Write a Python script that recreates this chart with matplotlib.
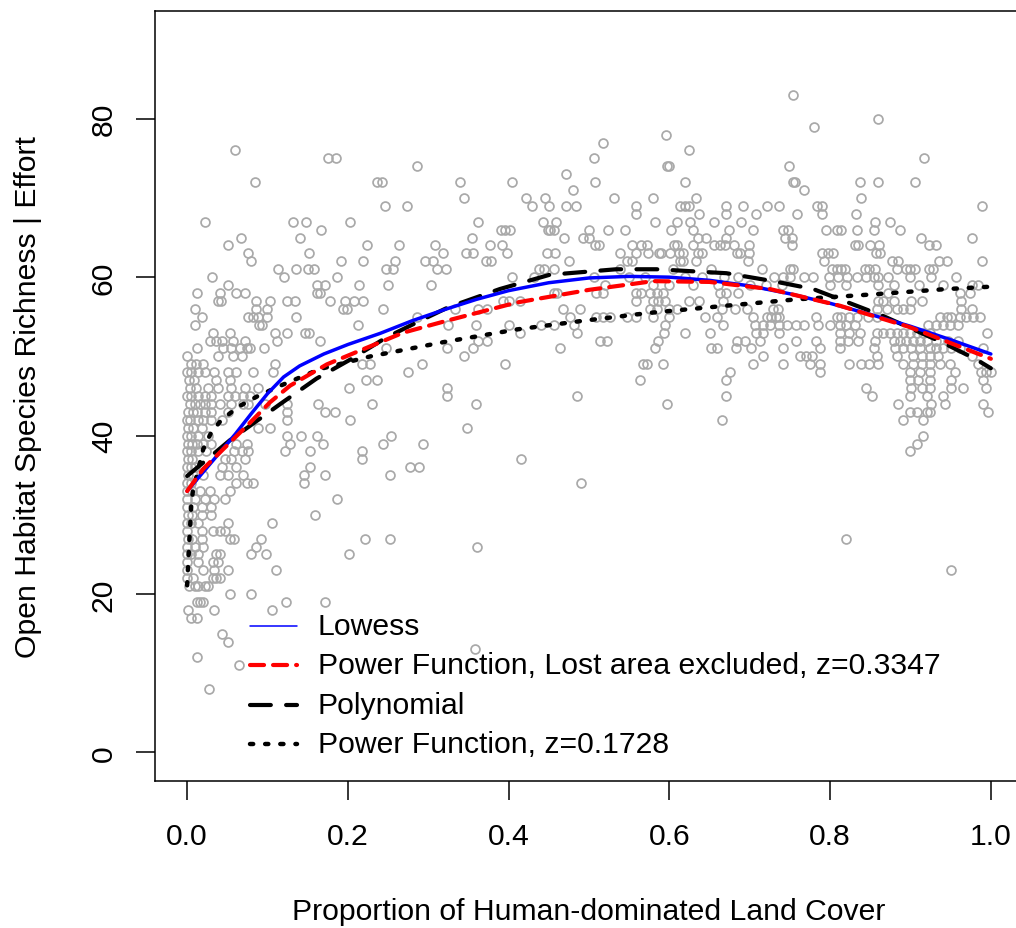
import matplotlib
matplotlib.use("Agg")
import matplotlib.pyplot as plt
from matplotlib.lines import Line2D
import numpy as np

plt.rcParams['font.family'] = ['Liberation Sans', 'DejaVu Sans']
plt.rcParams['lines.scale_dashes'] = False

# ---------------- data (richness level, [land-cover proportions]) ----------------
obs_far_left = [
    (76, [0.060]), (72, [0.085]), (67, [0.022]), (65, [0.067]), (64, [0.051]),
    (63, [0.076]), (62, [0.080]), (60, [0.031]), (59, [0.051]),
    (58, [0.012, 0.041, 0.061, 0.072]),
    (57, [0.039, 0.042, 0.086]),
    (56, [0.010, 0.086, 0.099]),
    (55, [0.018, 0.076, 0.082, 0.088, 0.099]),
    (54, [0.010, 0.090, 0.093]),
    (53, [0.032, 0.053]),
    (52, [0.028, 0.036, 0.043, 0.057, 0.072]),
    (51, [0.012, 0.045, 0.055, 0.066, 0.074, 0.078, 0.095]),
    (50, [0.0, 0.039, 0.057, 0.068]),
    (49, [0.005, 0.011, 0.020]),
    (48, [0.0, 0.005, 0.014, 0.022, 0.034, 0.051, 0.061, 0.082]),
    (47, [0.002, 0.008, 0.036, 0.053]),
    (46, [0.003, 0.011, 0.026, 0.039, 0.055, 0.072, 0.088]),
    (45, [0.0, 0.005, 0.014, 0.022, 0.030, 0.051, 0.059, 0.070, 0.078]),
    (44, [0.003, 0.010, 0.016, 0.022, 0.030, 0.041, 0.055, 0.070, 0.076, 0.097]),
    (43, [0.001, 0.007, 0.012, 0.022, 0.030, 0.051]),
    (42, [0.0, 0.003, 0.014, 0.020, 0.030, 0.043]),
    (41, [0.001, 0.007, 0.018, 0.088]),
    (40, [0.0, 0.005, 0.014, 0.026]),
    (39, [0.001, 0.006, 0.012, 0.020, 0.030, 0.061, 0.074]),
    (38, [0.0, 0.005, 0.014, 0.024, 0.058, 0.068, 0.076]),
    (37, [0.001, 0.006, 0.047, 0.055, 0.072]),
    (36, [0.0, 0.005, 0.010, 0.043, 0.061]),
    (35, [0.001, 0.007, 0.020, 0.041, 0.051, 0.070]),
    (34, [0.0, 0.005, 0.061, 0.074, 0.082]),
    (33, [0.0, 0.006, 0.016, 0.028, 0.053]),
    (32, [0.0, 0.010, 0.022, 0.034, 0.047]),
    (31, [0.0, 0.007, 0.018, 0.030]),
    (30, [0.001, 0.006, 0.018, 0.030]),
    (29, [0.0, 0.005, 0.014, 0.051]),
    (28, [0.0, 0.018, 0.032, 0.041, 0.047]),
    (27, [0.001, 0.006, 0.018, 0.053, 0.058, 0.092]),
    (26, [0.0, 0.010, 0.020, 0.086]),
    (25, [0.0, 0.005, 0.014, 0.036, 0.041, 0.080, 0.098]),
    (24, [0.0, 0.014, 0.032, 0.039]),
    (23, [0.0, 0.020, 0.034, 0.051]),
    (22, [0.0, 0.007, 0.032, 0.036, 0.041]),
    (21, [0.002, 0.010, 0.014, 0.022, 0.026]),
    (20, [0.053, 0.080]),
    (19, [0.012, 0.016, 0.020]),
    (18, [0.001, 0.034]),
    (17, [0.005, 0.012]),
    (15, [0.043]), (14, [0.051]), (12, [0.012]), (11, [0.065]), (8, [0.027]),
]

obs_left = [
    (75, [0.175, 0.185]), (74, [0.286]), (72, [0.236, 0.243]), (69, [0.246, 0.273]),
    (67, [0.132, 0.148, 0.203]), (66, [0.166]), (65, [0.141]),
    (64, [0.224, 0.263, 0.308]), (63, [0.151, 0.318]),
    (62, [0.191, 0.219, 0.259, 0.296, 0.306]),
    (61, [0.113, 0.135, 0.150, 0.158, 0.248, 0.256, 0.311, 0.322]),
    (60, [0.121, 0.187]),
    (59, [0.161, 0.171, 0.214, 0.250, 0.303]),
    (58, [0.161, 0.165]),
    (57, [0.103, 0.124, 0.134, 0.178, 0.197, 0.207, 0.219]),
    (56, [0.194, 0.199, 0.244]), (55, [0.136, 0.286]), (54, [0.213, 0.325]),
    (53, [0.109, 0.124, 0.147, 0.151]), (52, [0.112, 0.165]), (51, [0.248, 0.323]),
    (49, [0.109, 0.217, 0.227, 0.292]), (48, [0.107, 0.275]), (47, [0.223, 0.236]),
    (46, [0.202, 0.323]), (45, [0.323]), (44, [0.124, 0.163, 0.230]),
    (43, [0.124, 0.172, 0.184]), (42, [0.124, 0.203]), (41, [0.103]),
    (40, [0.124, 0.142, 0.161, 0.254]), (39, [0.128, 0.169, 0.244, 0.294]),
    (38, [0.122, 0.153, 0.217]), (37, [0.217]), (36, [0.153, 0.277, 0.288]),
    (35, [0.145, 0.172, 0.253]), (34, [0.145]), (32, [0.186]), (30, [0.159]),
    (29, [0.106]), (27, [0.221, 0.253]), (25, [0.201]), (23, [0.110]),
    (19, [0.123, 0.172]), (18, [0.105]),
]

obs_middle = [
    (78, [0.596]), (77, [0.518]), (76, [0.624]), (75, [0.506]), (74, [0.597, 0.600]),
    (73, [0.472]), (72, [0.340, 0.404, 0.507, 0.619]), (71, [0.480]),
    (70, [0.344, 0.421, 0.445, 0.531, 0.580, 0.633]),
    (69, [0.429, 0.450, 0.471, 0.484, 0.559, 0.613, 0.619, 0.624, 0.670]),
    (68, [0.559, 0.637, 0.671]),
    (67, [0.362, 0.443, 0.459, 0.582, 0.609, 0.626, 0.655]),
    (66, [0.390, 0.396, 0.402, 0.449, 0.451, 0.456, 0.500, 0.524, 0.545, 0.602, 0.629, 0.674]),
    (65, [0.354, 0.469, 0.492, 0.500, 0.635, 0.646, 0.670]),
    (64, [0.377, 0.392, 0.507, 0.512, 0.554, 0.565, 0.572, 0.606, 0.610, 0.630, 0.655, 0.663, 0.669]),
    (63, [0.347, 0.356, 0.398, 0.448, 0.458, 0.539, 0.559, 0.574, 0.587, 0.590, 0.601, 0.612,
          0.617, 0.636, 0.641]),
    (62, [0.372, 0.378, 0.475, 0.547, 0.554, 0.613, 0.617, 0.633]),
    (61, [0.438, 0.444, 0.456, 0.539, 0.605, 0.652]),
    (60, [0.404, 0.431, 0.506, 0.550, 0.570, 0.620, 0.640, 0.668]),
    (59, [0.520, 0.580, 0.600, 0.630, 0.660]),
    (58, [0.456, 0.460, 0.509, 0.518, 0.559, 0.565, 0.576, 0.584, 0.592, 0.663, 0.671]),
    (57, [0.393, 0.400, 0.414, 0.559, 0.580, 0.586, 0.594, 0.625, 0.637, 0.667]),
    (56, [0.333, 0.362, 0.373, 0.468, 0.489, 0.576, 0.584, 0.599, 0.609, 0.665]),
    (55, [0.476, 0.509, 0.518, 0.526, 0.547, 0.559, 0.580, 0.599, 0.644, 0.659]),
    (54, [0.360, 0.400, 0.440, 0.456, 0.481, 0.595, 0.667]),
    (53, [0.414, 0.485, 0.593, 0.619, 0.651]),
    (52, [0.362, 0.373, 0.514, 0.522, 0.586]),
    (51, [0.356, 0.464, 0.582, 0.652, 0.659]),
    (50, [0.344]), (49, [0.396, 0.567, 0.572, 0.592]), (47, [0.563, 0.671]),
    (45, [0.485, 0.671]), (44, [0.359, 0.597]), (42, [0.666]), (41, [0.348]),
    (37, [0.415]), (34, [0.490]), (26, [0.361]), (13, [0.358]),
]

obs_right = [
    (83, [0.754]), (80, [0.859]), (79, [0.780]), (75, [0.917]), (74, [0.749]),
    (72, [0.754, 0.756, 0.837, 0.860, 0.906]), (71, [0.767]), (70, [0.838]),
    (69, [0.692, 0.721, 0.736, 0.784, 0.790, 0.989]),
    (68, [0.708, 0.759, 0.790, 0.832]),
    (67, [0.689, 0.856, 0.875]),
    (66, [0.704, 0.742, 0.747, 0.795, 0.808, 0.813, 0.833, 0.855, 0.887]),
    (65, [0.744, 0.752, 0.913, 0.976]),
    (64, [0.680, 0.699, 0.752, 0.831, 0.835, 0.850, 0.861, 0.923, 0.932]),
    (63, [0.684, 0.688, 0.699, 0.790, 0.797, 0.803, 0.857, 0.862]),
    (62, [0.698, 0.793, 0.877, 0.884, 0.935, 0.945, 0.989]),
    (61, [0.715, 0.750, 0.754, 0.802, 0.808, 0.813, 0.819, 0.844, 0.849, 0.856, 0.883, 0.894,
          0.900, 0.906, 0.923, 0.928]),
    (60, [0.685, 0.730, 0.742, 0.750, 0.767, 0.779, 0.799, 0.810, 0.821, 0.833, 0.845, 0.854,
          0.860, 0.872, 0.899, 0.926, 0.957]),
    (59, [0.700, 0.720, 0.740, 0.800, 0.820, 0.860, 0.880, 0.910, 0.940, 0.976, 0.984]),
    (58, [0.686, 0.872, 0.962, 0.974]),
    (57, [0.860, 0.866, 0.879, 0.901, 0.914, 0.963]),
    (56, [0.682, 0.696, 0.729, 0.735, 0.858, 0.871, 0.883, 0.891, 0.899, 0.963, 0.976]),
    (55, [0.704, 0.721, 0.727, 0.733, 0.737, 0.783, 0.808, 0.814, 0.823, 0.833, 0.847, 0.858,
          0.937, 0.945, 0.951, 0.961, 0.969, 0.978, 0.986]),
    (54, [0.706, 0.717, 0.725, 0.737, 0.746, 0.758, 0.768, 0.785, 0.800, 0.812, 0.820, 0.831,
          0.922, 0.932, 0.941, 0.949, 0.959]),
    (53, [0.708, 0.717, 0.737, 0.812, 0.824, 0.837, 0.858, 0.866, 0.874, 0.883, 0.891, 0.899,
          0.908, 0.916, 0.924, 0.995]),
    (52, [0.684, 0.694, 0.713, 0.758, 0.783, 0.812, 0.822, 0.835, 0.856, 0.879, 0.887, 0.895,
          0.903, 0.912, 0.920, 0.932, 0.947, 0.959]),
    (51, [0.683, 0.702, 0.742, 0.787, 0.812, 0.854, 0.881, 0.891, 0.901, 0.912, 0.924, 0.932,
          0.941, 0.951, 0.961, 0.990]),
    (50, [0.717, 0.762, 0.770, 0.777, 0.858, 0.883, 0.903, 0.914, 0.924, 0.934, 0.976]),
    (49, [0.704, 0.742, 0.775, 0.787, 0.824, 0.839, 0.849, 0.860, 0.891, 0.903, 0.914, 0.924,
          0.937, 0.949, 0.984]),
    (48, [0.675, 0.787, 0.899, 0.912, 0.924, 0.955, 0.988, 0.994, 1.000]),
    (47, [0.899, 0.909, 0.924, 0.951, 0.990]),
    (46, [0.845, 0.901, 0.914, 0.924, 0.951, 0.965, 0.994]),
    (45, [0.852, 0.899, 0.920, 0.941]),
    (44, [0.885, 0.926, 0.943, 0.990]),
    (43, [0.899, 0.908, 0.920, 0.924, 0.996]),
    (42, [0.891, 0.916]), (40, [0.916]), (39, [0.908]), (38, [0.900]),
    (27, [0.820]), (23, [0.950]),
]

# fitted curves
lowess_x = [0.0, 0.02, 0.04, 0.06, 0.08, 0.10, 0.12, 0.14, 0.17, 0.20, 0.24, 0.28, 0.32,
            0.36, 0.40, 0.45, 0.50, 0.55, 0.60, 0.65, 0.70, 0.75, 0.80, 0.85, 0.90, 0.95, 1.0]
lowess_y = [33.0, 35.4, 37.8, 40.2, 42.8, 45.3, 47.4, 48.8, 50.3, 51.5, 52.9, 54.5, 55.9,
            57.2, 58.3, 59.3, 59.9, 60.1, 60.0, 59.6, 58.9, 57.9, 56.7, 55.3, 53.8, 52.1, 50.3]

power_excl_x = [0.0, 0.02, 0.053, 0.078, 0.103, 0.128, 0.174, 0.219, 0.269, 0.323,
                0.41, 0.50, 0.58, 0.65, 0.725, 0.812, 0.899, 1.0]
power_excl_y = [33.0, 35.8, 39.1, 41.6, 44.2, 46.3, 49.0, 50.9, 53.0, 54.5,
                56.8, 58.4, 59.5, 59.4, 58.5, 56.4, 53.7, 49.7]

poly_x = [0.0, 0.053, 0.116, 0.161, 0.203, 0.248, 0.290, 0.325, 0.389, 0.451, 0.534,
          0.584, 0.671, 0.729, 0.779, 0.866, 0.941, 0.982, 1.0]
poly_y = [34.9, 39.4, 44.0, 47.2, 49.6, 52.4, 54.5, 56.2, 58.5, 60.3, 61.0,
          61.0, 60.5, 59.5, 58.5, 55.1, 51.7, 49.6, 48.5]

power_x = [0.0, 0.001, 0.003, 0.005, 0.007, 0.020, 0.030, 0.042, 0.063, 0.088, 0.116,
           0.165, 0.228, 0.319, 0.410, 0.493, 0.576, 0.671, 0.758, 0.849, 0.945, 1.0]
power_y = [21.1, 23.2, 27.2, 31.0, 32.9, 38.3, 40.4, 41.9, 43.6, 45.0, 46.3,
           48.4, 50.0, 51.8, 53.4, 54.5, 55.5, 56.4, 57.2, 57.8, 58.5, 58.8]

legend_labels = ["Lowess", "Power Function, Lost area excluded, z=0.3347",
                 "Polynomial", "Power Function, z=0.1728"]
x_ticks = [0.0, 0.2, 0.4, 0.6, 0.8, 1.0]
x_tick_labels = ["0.0", "0.2", "0.4", "0.6", "0.8", "1.0"]
y_ticks = [0, 20, 40, 60, 80]
x_label = "Proportion of Human-dominated Land Cover"
y_label = "Open Habitat Species Richness | Effort"

# ---------------- figure ----------------
W, H = 1016, 929
FS = 21.7
fig = plt.figure(figsize=(W / 100, H / 100), dpi=100)
ax = fig.add_axes([155 / W, 1 - 782 / H, 868 / W, 770 / H])
ax.set_xlim(-0.04, 1.04)
ax.set_ylim(-3.6, 93.6)

xs, ys = [], []
for group in (obs_far_left, obs_left, obs_middle, obs_right):
    for yv, xl in group:
        for xv in xl:
            xs.append(xv)
            ys.append(yv)
ax.plot(xs, ys, linestyle='none', marker='o', markersize=6.4,
        markerfacecolor='none', markeredgecolor='#A9A9A9', markeredgewidth=1.25, zorder=2)

styles = [
    dict(color='#0000FF', lw=2.5, linestyle='-', solid_capstyle='round'),
    dict(color='#FF0000', lw=3.0, dashes=(10.1, 6.5), dash_capstyle='round'),
    dict(color='black', lw=3.0, dashes=(15.0, 11.0), dash_capstyle='round'),
    dict(color='black', lw=3.2, dashes=(2.3, 8.6), dash_capstyle='round'),
]
ax.plot(power_x, power_y, zorder=3, **styles[3])
ax.plot(poly_x, poly_y, zorder=3, **styles[2])
ax.plot(lowess_x, lowess_y, zorder=4, **styles[0])
ax.plot(power_excl_x, power_excl_y, zorder=5, **styles[1])

for side in ('left', 'top', 'bottom', 'right'):
    ax.spines[side].set_linewidth(1.1)

ax.set_xticks(x_ticks)
ax.set_xticklabels(x_tick_labels)
ax.set_yticks(y_ticks)
ax.set_yticklabels([str(v) for v in y_ticks], rotation=90, va='center')
ax.tick_params(axis='both', direction='out', length=13.7, width=1.1, labelsize=FS)
ax.tick_params(axis='x', pad=15.5)
ax.tick_params(axis='y', pad=13)

fig.text(589 / W, 1 - 912 / H, x_label, ha='center', va='center', fontsize=FS)
fig.text(28 / W, 1 - 397 / H, y_label, ha='center', va='center', rotation=90, fontsize=FS)

# legend (drawn manually, no frame)
leg_rows = [627, 666, 706, 745]
leg_lw = [1.1, 3.0, 3.0, 3.2]
for i, (lab, st) in enumerate(zip(legend_labels, styles)):
    st = dict(st)
    st['lw'] = leg_lw[i]
    yy = 1 - leg_rows[i] / H
    fig.add_artist(Line2D([250 / W, 297 / W], [yy, yy], transform=fig.transFigure, **st))
    fig.text(318 / W, yy, lab, ha='left', va='center', fontsize=FS)

fig.savefig("out.png", dpi=100)
